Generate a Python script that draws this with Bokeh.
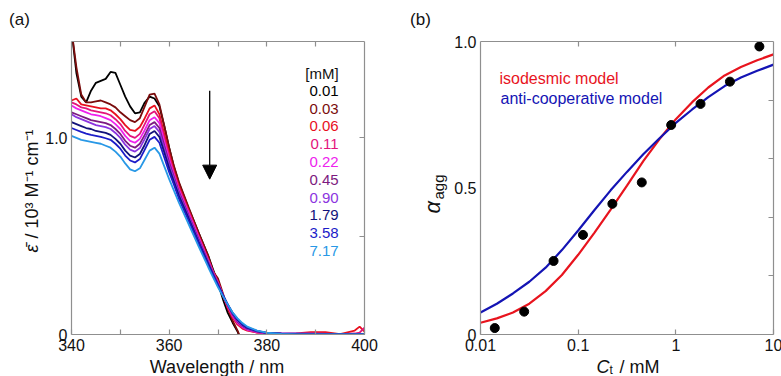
from bokeh.plotting import figure
from bokeh.models import (FixedTicker, LinearAxis, LogAxis, Label, Arrow,
                          NormalHead, Range1d)
from bokeh.layouts import row, column
from bokeh.embed import file_html
from bokeh.resources import INLINE

FONT = "Liberation Sans"
GRAY = "#8f8f8f"
INK = "#111111"

# ---------------- panel (a) data ----------------
wavelength = [340, 341, 342, 343, 344, 345, 346, 347, 348, 349, 350, 351, 352, 353,
              354, 355, 356, 357, 358, 359, 360, 361, 362, 364, 366, 368, 369, 370,
              371, 372, 373, 374, 375, 376, 378, 380, 383, 386, 389, 392, 395, 398,
              399, 400]

eps_0_01 = [1.55, 1.33, 1.21, 1.18, 1.24, 1.28, 1.29, 1.30, 1.335, 1.33, 1.27, 1.21, 1.16,
            1.125, 1.13, 1.18, 1.21, 1.20, 1.16, 1.06, 0.95, 0.85, 0.77, 0.64, 0.52, 0.40,
            0.33, 0.26, 0.18, 0.11, 0.06, 0.015, -0.05, -0.12, -0.10, -0.02, 0.0, 0.0, 0.0,
            0.0, 0.0, 0.0, 0.0, 0.0]
eps_0_03 = [1.55, 1.36, 1.22, 1.18, 1.18, 1.185, 1.19, 1.18, 1.17, 1.155, 1.13, 1.11, 1.09,
            1.08, 1.10, 1.16, 1.22, 1.225, 1.17, 1.06, 0.95, 0.855, 0.775, 0.645, 0.52, 0.40,
            0.32, 0.285, 0.21, 0.13, 0.07, 0.02, -0.04, -0.10, -0.08, -0.01, 0.0, 0.0, 0.0,
            0.0, 0.0, 0.0, 0.0, 0.0]
eps_0_06 = [1.19, 1.20, 1.17, 1.165, 1.16, 1.155, 1.15, 1.15, 1.14, 1.12, 1.095, 1.065, 1.04,
            1.035, 1.055, 1.10, 1.15, 1.165, 1.12, 1.02, 0.92, 0.83, 0.755, 0.63, 0.505, 0.385,
            0.32, 0.27, 0.20, 0.135, 0.085, 0.05, 0.03, 0.02, 0.01, 0.005, 0.003, 0.005, 0.012,
            0.012, 0.002, 0.02, 0.04, 0.015]
eps_0_11 = [1.18, 1.17, 1.155, 1.15, 1.14, 1.135, 1.13, 1.125, 1.115, 1.095, 1.07, 1.035, 1.01,
            1.0, 1.02, 1.07, 1.12, 1.135, 1.10, 1.0, 0.905, 0.82, 0.745, 0.625, 0.50, 0.38,
            0.32, 0.265, 0.20, 0.14, 0.09, 0.055, 0.035, 0.022, 0.01, 0.005, 0.003, 0.002,
            0.005, 0.004, 0.002, 0.005, 0.01, 0.035]
eps_0_22 = [1.165, 1.15, 1.14, 1.13, 1.12, 1.115, 1.11, 1.10, 1.09, 1.07, 1.045, 1.01, 0.985,
            0.975, 0.995, 1.04, 1.09, 1.105, 1.075, 0.98, 0.89, 0.81, 0.735, 0.615, 0.495,
            0.375, 0.315, 0.26, 0.20, 0.145, 0.095, 0.06, 0.04, 0.025, 0.012, 0.006, 0.004,
            0.003, 0.003, 0.002, 0.002, 0.002, 0.002, 0.002]
eps_0_45 = [1.13, 1.12, 1.11, 1.10, 1.09, 1.085, 1.08, 1.075, 1.065, 1.045, 1.02, 0.985, 0.96,
            0.95, 0.97, 1.015, 1.065, 1.08, 1.05, 0.96, 0.875, 0.80, 0.725, 0.605, 0.487,
            0.37, 0.312, 0.258, 0.20, 0.148, 0.10, 0.065, 0.043, 0.028, 0.014, 0.007, 0.005,
            0.004, 0.003, 0.002, 0.002, 0.002, 0.002, 0.002]
eps_0_90 = [1.12, 1.105, 1.095, 1.085, 1.075, 1.065, 1.06, 1.055, 1.045, 1.025, 1.0, 0.965,
            0.94, 0.93, 0.948, 0.995, 1.045, 1.06, 1.03, 0.945, 0.86, 0.79, 0.715, 0.598,
            0.48, 0.365, 0.308, 0.255, 0.20, 0.15, 0.105, 0.07, 0.046, 0.03, 0.016, 0.008,
            0.006, 0.005, 0.004, 0.003, 0.003, 0.003, 0.003, 0.003]
eps_1_79 = [1.08, 1.07, 1.06, 1.05, 1.045, 1.035, 1.03, 1.025, 1.015, 0.995, 0.97, 0.935,
            0.91, 0.90, 0.918, 0.965, 1.02, 1.035, 1.005, 0.925, 0.845, 0.775, 0.705, 0.59,
            0.473, 0.36, 0.305, 0.252, 0.20, 0.152, 0.108, 0.074, 0.05, 0.033, 0.017, 0.008,
            0.004, 0.002, 0.002, 0.002, 0.002, 0.002, 0.002, 0.002]
eps_3_58 = [1.05, 1.04, 1.03, 1.022, 1.015, 1.01, 1.005, 0.998, 0.99, 0.97, 0.945, 0.91,
            0.885, 0.875, 0.892, 0.94, 0.99, 1.005, 0.975, 0.90, 0.825, 0.76, 0.69, 0.578,
            0.465, 0.352, 0.30, 0.248, 0.20, 0.153, 0.11, 0.078, 0.053, 0.036, 0.018, 0.008,
            0.003, 0.001, 0.001, 0.001, 0.001, 0.001, 0.001, 0.001]
eps_7_17 = [1.01, 1.0, 0.99, 0.985, 0.98, 0.975, 0.97, 0.96, 0.95, 0.93, 0.905, 0.87, 0.84,
            0.83, 0.845, 0.89, 0.935, 0.95, 0.92, 0.855, 0.79, 0.73, 0.67, 0.56, 0.45,
            0.342, 0.29, 0.24, 0.195, 0.152, 0.112, 0.082, 0.058, 0.04, 0.02, 0.009, 0.003,
            0.001, 0.001, 0.001, 0.001, 0.001, 0.001, 0.001]

conc_labels = ["0.01", "0.03", "0.06", "0.11", "0.22", "0.45", "0.90", "1.79", "3.58", "7.17"]
spectra = [eps_0_01, eps_0_03, eps_0_06, eps_0_11, eps_0_22, eps_0_45, eps_0_90,
           eps_1_79, eps_3_58, eps_7_17]
colors = ["#000000", "#7a0c0c", "#e8101e", "#e3147c", "#ee22ee", "#7d1a80",
          "#8c34e0", "#12127a", "#1c1cc8", "#2898e6"]

# ---------------- panel (b) data ----------------
ct_points = [0.014, 0.028, 0.056, 0.112, 0.224, 0.448, 0.896, 1.79, 3.58, 7.17]
alpha_points = [0.022, 0.078, 0.251, 0.340, 0.446, 0.519, 0.715, 0.787, 0.863, 0.983]

ct_model = [0.01, 0.0147, 0.0215, 0.0316, 0.0464, 0.0681, 0.1, 0.147, 0.215, 0.316,
            0.464, 0.681, 1.0, 1.47, 2.15, 3.16, 4.64, 6.81, 10.0]
alpha_isodesmic = [0.040, 0.055, 0.075, 0.105, 0.148, 0.203, 0.272, 0.348, 0.426, 0.508,
                   0.592, 0.667, 0.735, 0.793, 0.843, 0.884, 0.913, 0.936, 0.956]
alpha_anticoop = [0.075, 0.105, 0.140, 0.180, 0.228, 0.288, 0.355, 0.425, 0.492, 0.555,
                  0.615, 0.670, 0.722, 0.768, 0.810, 0.848, 0.877, 0.900, 0.921]


def style_axis(ax, ticks, overrides=None, tick_in=5, show_labels=True):
    ax.ticker = FixedTicker(ticks=ticks, minor_ticks=[])
    ax.major_tick_in = tick_in
    ax.major_tick_out = 0
    ax.minor_tick_in = 0
    ax.minor_tick_out = 0
    ax.axis_line_color = GRAY
    ax.axis_line_width = 1.2
    ax.major_tick_line_color = GRAY
    ax.major_tick_line_width = 1.2
    ax.major_label_text_font = FONT
    ax.major_label_text_font_size = "16px"
    ax.major_label_text_color = INK
    ax.major_label_standoff = 4
    if overrides is not None:
        ax.major_label_overrides = overrides
    if not show_labels:
        ax.major_label_overrides = {t: "" for t in ticks}
        ax.major_label_text_color = None
        ax.major_label_text_font_size = "1px"
        ax.major_label_standoff = 0


def text_strip(w, h, top=0, bottom=0):
    """A bare figure used to hold titles; its frame spans h - top - bottom px."""
    fh = h - top - bottom
    f = figure(width=w, height=h, x_range=Range1d(0, w), y_range=Range1d(0, fh),
               min_border=0, min_border_top=top, min_border_bottom=bottom,
               toolbar_location=None, output_backend="svg",
               x_axis_location=None, y_axis_location=None, title=None)
    f.outline_line_color = None
    f.grid.visible = False
    return f


def put(p, text, x, y, size, angle=0, align="left", italic=False, color=INK,
        units="data"):
    p.add_layout(Label(x=x, y=y, x_units=units, y_units=units, text=text,
                       text_font=FONT, text_font_size=size,
                       text_font_style="italic" if italic else "normal",
                       text_color=color, text_align=align, text_baseline="middle",
                       angle=angle, angle_units="deg"))


HEAD_H = 28          # strip holding "(a)" / "(b)"
TOP = 41             # frame top (page px)
FRAME_H = 293
FRAME_BOTTOM = TOP + FRAME_H
MAIN_H = 358 - HEAD_H
IN_TOP = TOP - HEAD_H
IN_BOTTOM = MAIN_H - IN_TOP - FRAME_H
STRIP_H = 376 - HEAD_H - MAIN_H

# ---------------- panel (a) ----------------
YA_W = 42
pa = figure(frame_width=293, frame_height=FRAME_H, x_range=Range1d(340, 400),
            y_range=Range1d(0, 1.49), output_backend="svg", toolbar_location=None,
            title=None, min_border_left=28, min_border_right=400 - YA_W - 28 - 293,
            min_border_top=IN_TOP, min_border_bottom=IN_BOTTOM)
pa.outline_line_color = None
pa.grid.visible = False

for eps, col in zip(spectra, colors):
    pa.line(wavelength, eps, line_color=col, line_width=1.8)

style_axis(pa.xaxis[0], [340, 350, 360, 370, 380, 390, 400],
           {350: "", 370: "", 390: ""})
style_axis(pa.yaxis[0], [0, 1.0], {0: "0", 1: "1.0"}, tick_in=0)
top_a = LinearAxis()
style_axis(top_a, [350, 360, 370, 380, 390], show_labels=False)
pa.add_layout(top_a, "above")
right_a = LinearAxis()
style_axis(right_a, [0.5, 1.0], show_labels=False)
pa.add_layout(right_a, "right")

# legend of panel (a)
LEG_X = 394.7
LEG_Y0 = 1.239
LEG_DY = 0.0905
put(pa, "[mM]", LEG_X, LEG_Y0 + LEG_DY * 0.95, "15px", align="right")
for i, (lab, col) in enumerate(zip(conc_labels, colors)):
    put(pa, lab, LEG_X, LEG_Y0 - i * LEG_DY, "15px", align="right", color=col)

ARROW_X = 368.3
pa.add_layout(Arrow(end=NormalHead(size=14, fill_color="black", line_color="black"),
                    x_start=ARROW_X, y_start=1.24, x_end=ARROW_X, y_end=0.79,
                    line_color="black", line_width=1.3))

ha = text_strip(400, HEAD_H)
put(ha, "(a)", 19, HEAD_H - 19, "17px", align="center")

ya = text_strip(YA_W, MAIN_H, IN_TOP, IN_BOTTOM)
put(ya, "\u03b5\u0304", 31, FRAME_BOTTOM - 252, "18px", angle=90, italic=True)
put(ya, "/ 10\u00b3 M\u207b\u00b9 cm\u207b\u00b9", 31, FRAME_BOTTOM - 238, "18px",
    angle=90)

xa = text_strip(400, STRIP_H)
put(xa, "Wavelength / nm", YA_W + 28 + 146.5, STRIP_H - 8, "18px", align="center")

# ---------------- panel (b) ----------------
YB_W = 50
pb = figure(frame_width=293, frame_height=FRAME_H, x_axis_type="log",
            x_range=Range1d(0.01, 10), y_range=Range1d(0, 1.0),
            output_backend="svg", toolbar_location=None, title=None,
            min_border_left=28, min_border_right=381 - YB_W - 28 - 293,
            min_border_top=IN_TOP, min_border_bottom=IN_BOTTOM)
pb.outline_line_color = None
pb.grid.visible = False

pb.line(ct_model, alpha_isodesmic, line_color="#e8141e", line_width=2.2)
pb.line(ct_model, alpha_anticoop, line_color="#1414b4", line_width=2.2)
pb.scatter(ct_points, alpha_points, size=9, fill_color="black", line_color="black")

style_axis(pb.xaxis[0], [0.01, 0.1, 1, 10],
           {0.01: "0.01", 0.1: "0.1", 1: "1", 10: "10"})
style_axis(pb.yaxis[0], [0, 0.5, 1.0], {0: "0", 0.5: "0.5", 1: "1.0"}, tick_in=0)
top_b = LogAxis()
style_axis(top_b, [0.1, 1], show_labels=False)
pb.add_layout(top_b, "above")
right_b = LinearAxis()
style_axis(right_b, [0.2, 0.4, 0.6, 0.8], show_labels=False)
pb.add_layout(right_b, "right")

put(pb, "isodesmic model", 19, 256, "16px", color="#e8141e", units="screen")
put(pb, "anti-cooperative model", 20, 236, "16px", color="#1414b4", units="screen")

hb = text_strip(381, HEAD_H)
put(hb, "(b)", 19, HEAD_H - 19, "17px", align="center")

yb = text_strip(YB_W, MAIN_H, IN_TOP, IN_BOTTOM)
put(yb, "\u03b1", 31, FRAME_BOTTOM - 213, "22px", angle=90, italic=True)
put(yb, "agg", 37, FRAME_BOTTOM - 199, "15px", angle=90)

xb = text_strip(381, STRIP_H)
put(xb, "C", 195, STRIP_H - 8, "18px", italic=True)
put(xb, "t", 208, STRIP_H - 11, "12px")
put(xb, "/ mM", 218, STRIP_H - 8, "18px")

layout = row(column(ha, row(ya, pa), xa), column(hb, row(yb, pb), xb))
open("out.html", "w").write(file_html(layout, INLINE))
